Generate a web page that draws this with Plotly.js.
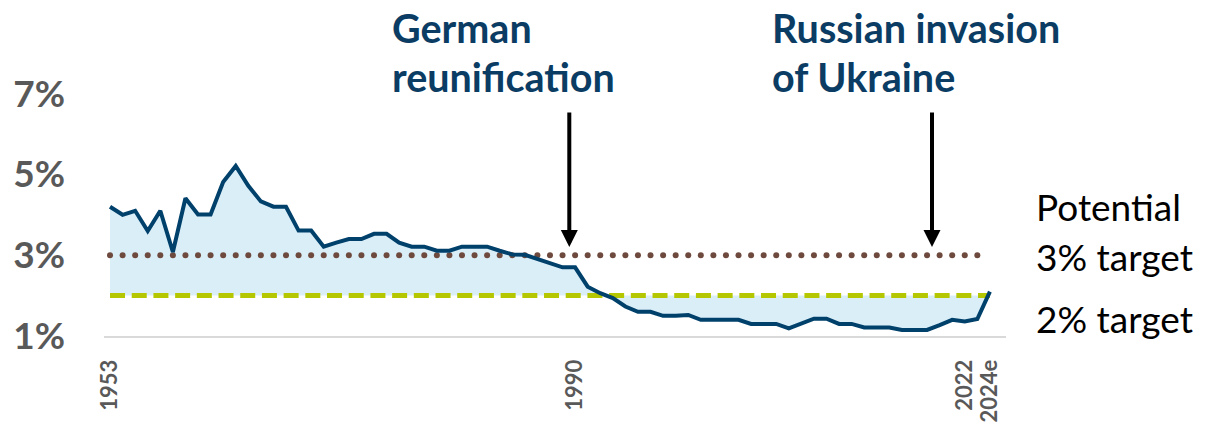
<!DOCTYPE html>
<html>
<head>
<meta charset="utf-8">
<script src="https://cdn.plot.ly/plotly-3.0.1.min.js"></script>
<style>
html,body{margin:0;padding:0;background:#fff;}
#chart{width:1207px;height:427px;}
</style>
</head>
<body>
<div id="chart"></div>
<script>
const years = ["1953","1954","1955","1956","1957","1958","1959","1960","1961","1962",
"1963","1964","1965","1966","1967","1968","1969","1970","1971","1972",
"1973","1974","1975","1976","1977","1978","1979","1980","1981","1982",
"1983","1984","1985","1986","1987","1988","1989","1990",
"1992","1993","1994","1995","1996","1997","1998","1999","2000","2001",
"2002","2003","2004","2005","2006","2007","2008","2009","2010","2011",
"2012","2013","2014","2015","2016","2017","2018","2019","2020","2021",
"2022","2023","2024e"];
const spending = [4.20,4.00,4.10,3.60,4.10,3.08,4.41,4.01,4.01,4.81,
5.21,4.72,4.33,4.20,4.20,3.61,3.61,3.21,3.31,3.40,
3.40,3.53,3.53,3.31,3.21,3.21,3.11,3.11,3.21,3.21,
3.21,3.11,3.02,3.01,2.91,2.80,2.70,2.70,
2.22,2.06,1.94,1.73,1.60,1.60,1.50,1.50,1.52,1.40,
1.40,1.40,1.40,1.30,1.30,1.30,1.19,1.31,1.43,1.43,
1.30,1.30,1.21,1.21,1.21,1.15,1.15,1.15,1.27,1.40,
1.36,1.42,2.10];
const target2 = 2;
const target3 = 3;
const yTickVals = [1,3,5,7];
const yTickText = ["1%","3%","5%","7%"];
const xTickVals = ["1953","1990","2022","2024e"];
const eventLabels = [["German","reunification"],["Russian invasion","of Ukraine"]];
const sideLabels = ["Potential","3% target","2% target"];

const C_LINE = "#00416C";
const C_FILL = "#DAEEF8";
const C_TXT = "#0B3C64";
const C_GREY = "#595959";

const base2 = years.map(() => target2);
const dots3 = years.slice(0, -1);
const dotsY = dots3.map(() => target3);

const traces = [
  {x: years, y: base2, type:"scatter", mode:"lines", line:{width:0, color:"rgba(0,0,0,0)"}, hoverinfo:"skip", showlegend:false},
  {x: years, y: spending, type:"scatter", mode:"lines", fill:"tonexty", fillcolor:C_FILL, line:{width:0, color:"rgba(0,0,0,0)"}, hoverinfo:"skip", showlegend:false},
  {x: years, y: base2, type:"scatter", mode:"lines", line:{color:"#B4C700", width:5, dash:"15px,6.7px"}, showlegend:false},
  {x: dots3, y: dotsY, type:"scatter", mode:"markers", marker:{color:"#6E4A3E", size:6}, showlegend:false},
  {x: years, y: spending, type:"scatter", mode:"lines", line:{color:C_LINE, width:4}, showlegend:false}
];

const L = 104, R = 1006, TOP = 0, BOT = 336;
const pxX = px => (px - L) / (R - L);
const pxY = py => (BOT - py) / (BOT - TOP);

const annotations = [];
const evX = [390, 770];
eventLabels.forEach((lines, i) => {
  lines.forEach((t, j) => {
    annotations.push({xref:"paper", yref:"paper", x:pxX(evX[i]), y:pxY(j === 0 ? 27 : 77), xanchor:"left", yanchor:"middle",
      text:t, showarrow:false, font:{family:"Lato", size:39.5, color:C_TXT, weight:"bold"}});
  });
});
[569.3, 932].forEach(ax => {
  annotations.push({xref:"paper", yref:"paper", x:pxX(ax), y:pxY(247), ax:0, ay:-136, text:"", showarrow:true, arrowhead:2, arrowsize:0.85, arrowwidth:4, arrowcolor:"#000"});
});
const sideY = [206, 256, 318];
sideLabels.forEach((t, i) => {
  annotations.push({xref:"paper", yref:"paper", x:pxX(1034), y:pxY(sideY[i]), xanchor:"left", yanchor:"middle", text:t, showarrow:false, font:{family:"Lato", size:37, color:"#000"}});
});

const layout = {
  width:1207, height:427,
  margin:{l:L, r:1207-R, t:TOP, b:427-BOT, pad:0},
  paper_bgcolor:"#fff", plot_bgcolor:"#fff",
  showlegend:false,
  xaxis:{type:"category", range:[-0.48, 71.28], showgrid:false, zeroline:false,
    showline:true, linecolor:"#D9D9D9", linewidth:2,
    tickmode:"array", tickvals:xTickVals, ticktext:xTickVals, tickangle:-90,
    ticks:"", ticklabelstandoff:13,
    tickfont:{family:"Lato", size:22, color:C_GREY, weight:"bold"}, automargin:false, fixedrange:true},
  yaxis:{range:[1, 9.317], showgrid:false, zeroline:false, showline:false,
    tickmode:"array", tickvals:yTickVals, ticktext:yTickText, ticks:"", ticklabelstandoff:38,
    tickfont:{family:"Lato", size:37, color:C_GREY, weight:"bold"}, automargin:false, fixedrange:true},
  annotations: annotations
};

Plotly.newPlot("chart", traces, layout, {displayModeBar:false, staticPlot:true});
</script>
</body>
</html>
